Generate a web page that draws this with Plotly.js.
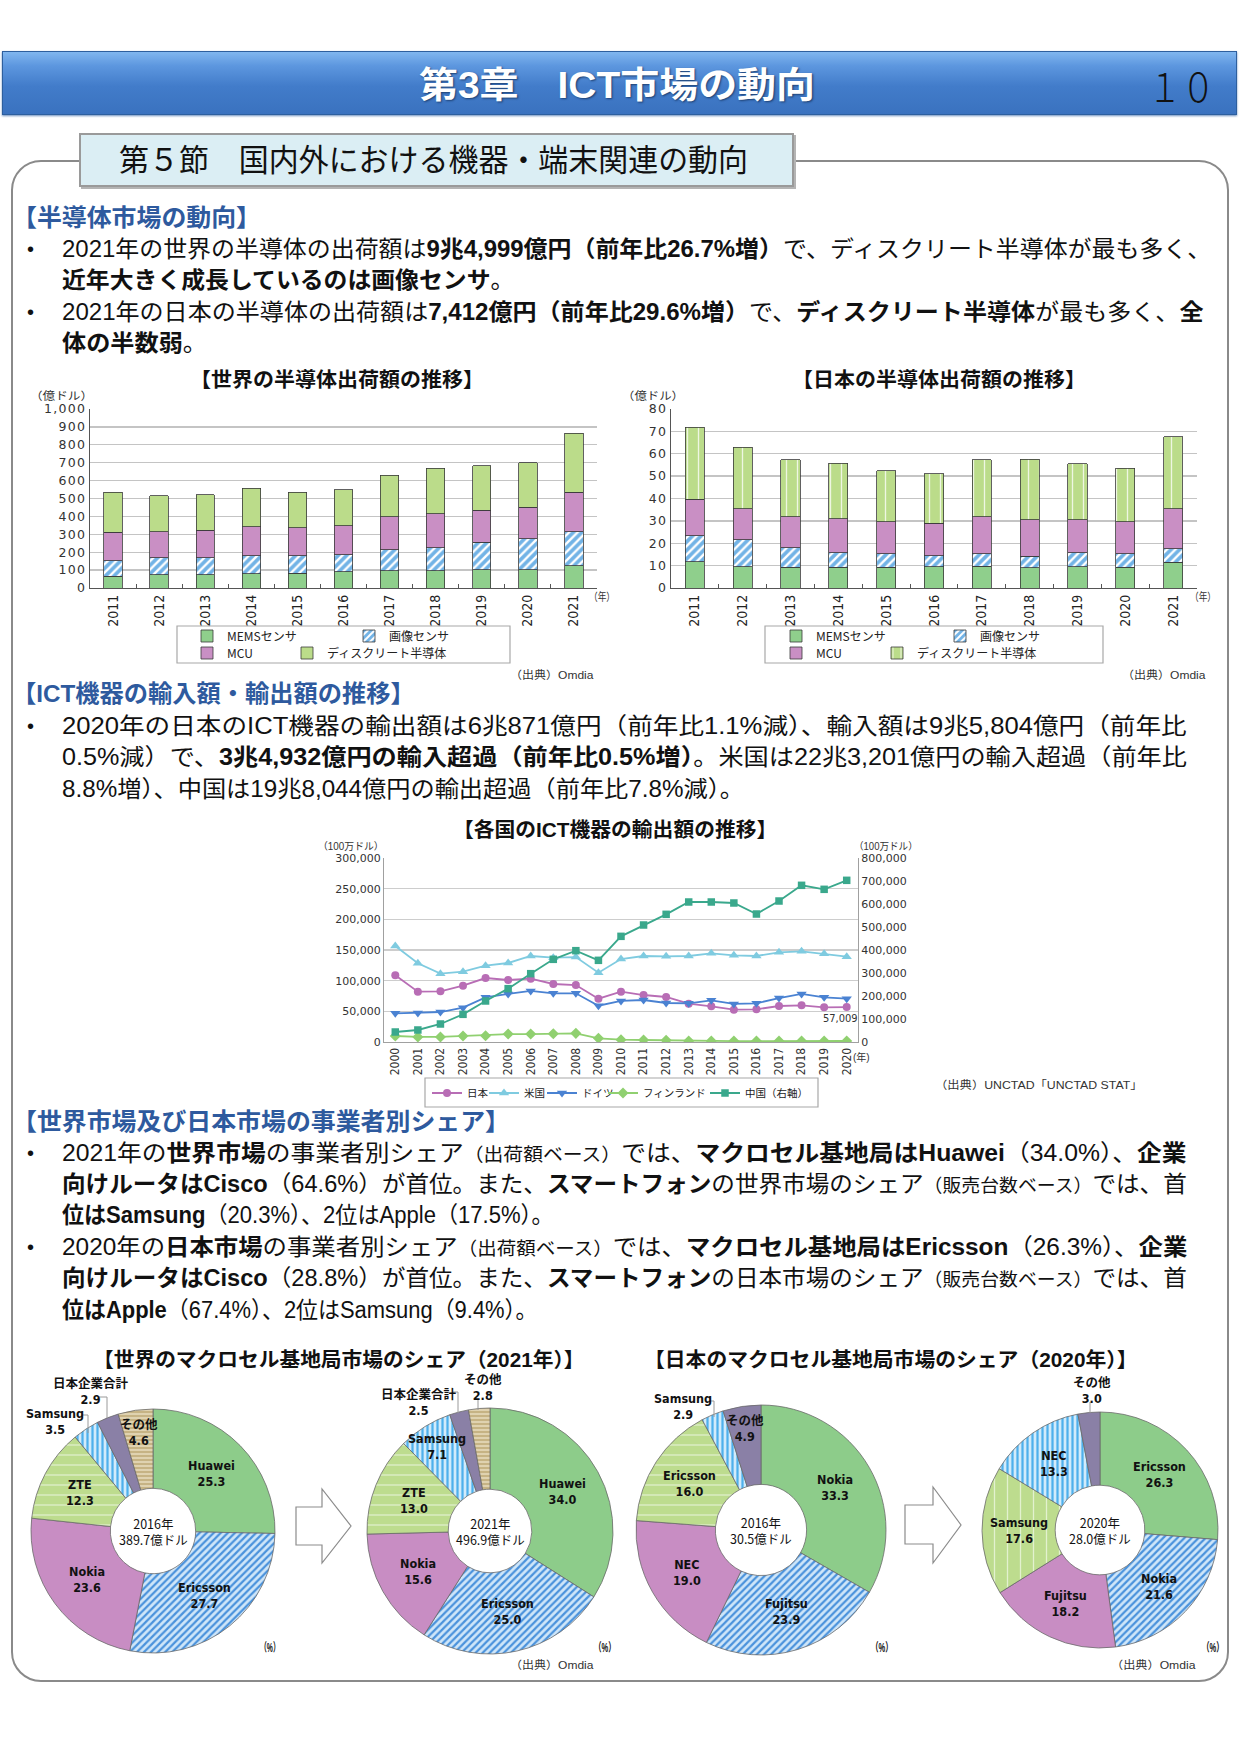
<!DOCTYPE html>
<html lang="ja"><head><meta charset="utf-8">
<script src="https://cdn.plot.ly/plotly-3.0.1.min.js"></script>
<style>
html,body{margin:0;padding:0;background:#fff;overflow:hidden;}
#page{position:relative;width:1241px;height:1755px;overflow:hidden;font-family:"Liberation Sans","Noto Sans CJK JP",sans-serif;color:#111;}
#hdr{position:absolute;left:2px;top:51px;width:1235px;height:64px;background:linear-gradient(to bottom,#80b6ef 0%,#5d97df 22%,#427cca 55%,#3a72bf 100%);border:1px solid #2d5f9e;box-sizing:border-box;box-shadow:0 1px 2px #6b8fbf;}
#frame{position:absolute;left:11px;top:160px;width:1218px;height:1522px;border:2px solid #8a8a8a;border-radius:30px;box-sizing:border-box;}
#sec{position:absolute;left:79px;top:133px;width:715px;height:54px;background:#dbeef4;border:2px solid #9a9a9a;box-shadow:2px 2px 0 #b4b4b4;box-sizing:border-box;}
.t{position:absolute;white-space:nowrap;transform-origin:0 50%;display:inline-block;}
.t b{font-weight:700;}
.t small{font-size:0.8em;}
#plot{position:absolute;left:0;top:0;width:1241px;height:1755px;z-index:5;}
#plot .ytick text,#plot .y2tick text{letter-spacing:1.3px;}
</style></head>
<body>
<div id="page">
  <div id="hdr"></div>
  <div id="frame"></div>
  <div id="sec"></div>
  <div id="plot"></div>
</div>
<script>
// ================= DATA =================
const semiYears = ['2011','2012','2013','2014','2015','2016','2017','2018','2019','2020','2021'];
const semiSeries = ['MEMSセンサ','画像センサ','MCU','ディスクリート半導体'];
const worldMEMS     = [67, 73, 75, 80, 82, 90, 97, 97, 103, 103, 125];
const worldImage    = [86, 95, 93, 101, 99, 97, 118, 129, 154, 173, 190];
const worldMCU      = [159, 147, 155, 162, 157, 162, 184, 190, 176, 174, 219];
const worldDiscrete = [222, 200, 197, 213, 196, 201, 230, 252, 250, 250, 330];
const japanMEMS     = [11.8, 9.6, 9.3, 9.3, 9.3, 9.4, 9.7, 9.1, 9.6, 9.3, 11.6];
const japanImage    = [11.6, 12.0, 8.8, 6.5, 6.1, 5.1, 5.7, 5.1, 6.1, 6.1, 5.9];
const japanMCU      = [16.2, 13.9, 13.8, 15.2, 14.3, 14.5, 16.5, 16.4, 14.9, 14.2, 18.0];
const japanDiscrete = [32.2, 27.3, 25.4, 24.7, 22.8, 22.0, 25.4, 26.9, 24.9, 24.0, 32.0];

const ictYears = ['2000','2001','2002','2003','2004','2005','2006','2007','2008','2009','2010','2011','2012','2013','2014','2015','2016','2017','2018','2019','2020'];
const ictNames = ['日本','米国','ドイツ','フィンランド','中国（右軸）'];
const ictJapan   = [109000, 82000, 82600, 91800, 104300, 101100, 103300, 94600, 92900, 70600, 82000, 76600, 73400, 62500, 58200, 52700, 53300, 58700, 59800, 56500, 57009];
const ictUSA     = [156500, 128300, 111400, 114700, 124500, 128800, 140200, 137500, 138500, 113000, 135300, 140200, 139700, 140200, 144600, 141300, 140200, 146200, 147800, 144000, 139100];
const ictGermany = [46700, 47300, 48900, 56000, 72800, 78300, 83200, 79400, 79400, 59200, 66900, 68500, 63600, 63000, 67900, 62000, 63000, 71700, 78300, 72800, 70700];
const ictFinland = [9800, 8200, 8200, 9800, 10300, 13000, 13000, 13600, 14100, 6000, 3800, 3300, 2700, 1600, 1600, 1500, 1500, 1600, 1600, 1600, 1600];
const ictChina   = [43500, 52200, 78300, 120300, 178300, 231900, 297100, 359400, 397100, 355100, 459400, 508700, 555100, 608700, 608700, 604400, 556500, 613000, 681200, 663800, 702900];

const worldVendors = ['Huawei','Ericsson','Nokia','ZTE','Samsung','日本企業合計','その他'];
const worldShare2016 = [25.3, 27.7, 23.6, 12.3, 3.5, 2.9, 4.6];
const worldShare2021 = [34.0, 25.0, 15.6, 13.0, 7.1, 2.5, 2.8];
const japanVendors2016 = ['Nokia','Fujitsu','NEC','Ericsson','Samsung','その他'];
const japanShare2016 = [33.3, 23.9, 19.0, 16.0, 2.9, 4.9];
const japanVendors2020 = ['Ericsson','Nokia','Fujitsu','Samsung','NEC','その他'];
const japanShare2020 = [26.3, 21.6, 18.2, 17.6, 13.3, 3.0];
const pieYears = ['2016年','2021年','2016年','2020年'];
const pieTotals = ['389.7億ドル','496.9億ドル','30.5億ドル','28.0億ドル'];

// ================= PAGE TEXT =================
const page = document.getElementById('page');
const fitList = [];
function T(x, yc, w, size, html, opt){
  opt = opt || {};
  const s = document.createElement('span');
  s.className = 't';
  s.innerHTML = html;
  s.style.left = x + 'px';
  s.style.fontSize = size + 'px';
  const lh = Math.round(size * 1.08);
  s.style.lineHeight = lh + 'px';
  s.style.top = (yc - lh / 2) + 'px';
  if (opt.color) s.style.color = opt.color;
  if (opt.bold) s.style.fontWeight = 700;
  if (opt.weight) s.style.fontWeight = opt.weight;
  if (opt.family) s.style.fontFamily = opt.family;
  if (opt.shadow) s.style.textShadow = opt.shadow;
  s.style.zIndex = 3;
  page.appendChild(s);
  if (w) fitList.push([s, w]);
  return s;
}
function fitAll(){ fitList.forEach(([s,w]) => { s.style.transform = 'scaleX(' + (w / s.offsetWidth) + ')'; }); }

// header
T(419, 85, 396, 36, '第3章　ICT市場の動向', {bold:true, color:'#fff', shadow:'1px 1px 2px #1d3f70'});
T(1148, 85, 67, 40, '１０', {weight:300, color:'#111', family:'"Noto Sans CJK JP",sans-serif'});
T(119, 160, 629, 31, '第５節　国内外における機器・端末関連の動向', {color:'#111'});

const HB = '#2e5a9e';
// section 1
T(12, 218, 249, 24, '【半導体市場の動向】', {bold:true, color:HB});
T(27, 249, 0, 20, '•'); T(27, 312, 0, 20, '•');
T(62, 249, 1149, 23, '2021年の世界の半導体の出荷額は<b>9兆4,999億円（前年比26.7%増）</b>で、ディスクリート半導体が最も多く、');
T(62, 280, 452, 23, '<b>近年大きく成長しているのは画像センサ</b>。');
T(62, 312, 1141, 23, '2021年の日本の半導体の出荷額は<b>7,412億円（前年比29.6%増）</b>で、<b>ディスクリート半導体</b>が最も多く、<b>全</b>');
T(62, 343, 145, 23, '<b>体の半数弱</b>。');

// section 2
T(12, 694, 403, 24, '【ICT機器の輸入額・輸出額の推移】', {bold:true, color:HB});
T(27, 726, 0, 20, '•');
T(62, 726, 1125, 23, '2020年の日本のICT機器の輸出額は6兆871億円（前年比1.1%減）、輸入額は9兆5,804億円（前年比');
T(62, 757, 1125, 23, '0.5%減）で、<b>3兆4,932億円の輸入超過（前年比0.5%増）</b>。米国は22兆3,201億円の輸入超過（前年比');
T(62, 789, 682, 23, '8.8%増）、中国は19兆8,044億円の輸出超過（前年比7.8%減）。');

// section 3
T(12, 1122, 498, 24, '【世界市場及び日本市場の事業者別シェア】', {bold:true, color:HB});
T(27, 1153, 0, 20, '•'); T(27, 1247, 0, 20, '•');
T(62, 1153, 1125, 23, '2021年の<b>世界市場</b>の事業者別シェア<small>（出荷額ベース）</small>では、<b>マクロセル基地局はHuawei</b>（34.0%）、<b>企業</b>');
T(62, 1184, 1125, 23, '<b>向けルータはCisco</b>（64.6%）が首位。また、<b>スマートフォン</b>の世界市場のシェア<small>（販売台数ベース）</small>では、首');
T(62, 1215, 492, 23, '<b>位はSamsung</b>（20.3%）、2位はApple（17.5%）。');
T(62, 1247, 1125, 23, '2020年の<b>日本市場</b>の事業者別シェア<small>（出荷額ベース）</small>では、<b>マクロセル基地局はEricsson</b>（26.3%）、<b>企業</b>');
T(62, 1278, 1125, 23, '<b>向けルータはCisco</b>（28.8%）が首位。また、<b>スマートフォン</b>の日本市場のシェア<small>（販売台数ベース）</small>では、首');
T(62, 1310, 476, 23, '<b>位はApple</b>（67.4%）、2位はSamsung（9.4%）。');

// chart titles
T(190, 380, 294, 20, '【世界の半導体出荷額の推移】', {bold:true});
T(792, 380, 294, 20, '【日本の半導体出荷額の推移】', {bold:true});
T(453, 830, 324, 20, '【各国のICT機器の輸出額の推移】', {bold:true});
T(93, 1360, 492, 20, '【世界のマクロセル基地局市場のシェア（2021年）】', {bold:true});
T(644, 1360, 494, 20, '【日本のマクロセル基地局市場のシェア（2020年）】', {bold:true});

// units / sources
const small = {color:'#333'};
T(30, 396, 63, 11, '（億ドル）', small);
T(622, 396, 62, 11, '（億ドル）', small);
T(589, 597, 26, 11, '（年）', small);
T(1190, 597, 26, 11, '（年）', small);
T(318, 846, 66, 10, '（100万ドル）', small);
T(854, 846, 64, 10, '（100万ドル）', small);
T(853, 1057, 17, 10, '(年)', small);
T(510, 675, 83, 11, '（出典）Omdia', small);
T(1122, 675, 83, 11, '（出典）Omdia', small);
T(935, 1085, 208, 11, '（出典）UNCTAD「UNCTAD STAT」', small);
T(510, 1665, 83, 11, '（出典）Omdia', small);
T(1111, 1665, 84, 11, '（出典）Omdia', small);
T(260, 1648, 20, 12, '（%）', {bold:true});
T(594, 1648, 22, 12, '（%）', {bold:true});
T(871, 1648, 22, 12, '（%）', {bold:true});
T(1202, 1648, 22, 12, '（%）', {bold:true});

fitAll();

// ================= CHART =================
const W = 1241, H = 1755;
const fx = x => x / W, fy = y => 1 - y / H;

const barLine = {color:'#3a3a3a', width:0.8};
const COL = {mems:'#8fcf8c', img:'#72b3e6', mcu:'#c98fc4', disc:'#bbdc8a'};
// each legend item gets its own legend so its position can follow the reference
const legendDefs = {};
let legendCount = 0;
function newLegend(xText, yc, font){
  legendCount++;
  const id = legendCount === 1 ? 'legend' : 'legend' + legendCount;
  legendDefs[id] = {orientation:'h', xanchor:'left', yanchor:'middle', x:fx(xText - 40), y:fy(yc), bgcolor:'rgba(0,0,0,0)', borderwidth:0,
    font:font, itemclick:false, itemdoubleclick:false};
  return id;
}
const barLegFont = {family:'"Noto Sans CJK JP",sans-serif', size:12, color:'#222'};
const lineLegFont = {family:'"Noto Sans CJK JP",sans-serif', size:10.5, color:'#222'};

function semiTraces(xa, ya, vals, legX, discPattern){
  const m4 = {color:COL.disc, line:barLine};
  if (discPattern) m4.pattern = discPattern;
  const markers = [
    {color:COL.mems, line:barLine},
    {color:COL.img, line:barLine, pattern:{shape:'/', bgcolor:COL.img, fgcolor:'#ffffff', size:6, solidity:0.4}},
    {color:COL.mcu, line:barLine},
    m4
  ];
  return vals.map((v, i) => ({type:'bar', x:semiYears, y:v, name:semiSeries[i], xaxis:xa, yaxis:ya,
    legend:newLegend(legX[i][0], legX[i][1], barLegFont), marker:markers[i]}));
}
let traces = [];
traces = traces.concat(semiTraces('x','y',[worldMEMS,worldImage,worldMCU,worldDiscrete],
  [[227,636],[389,636],[227,653],[327,653]], null));
traces = traces.concat(semiTraces('x2','y2',[japanMEMS,japanImage,japanMCU,japanDiscrete],
  [[816,636],[980,636],[816,653],[917,653]], {shape:'|', bgcolor:COL.disc, fgcolor:'#eef6e2', size:11, solidity:0.12}));

const ictStyle = [
  {color:'#b86db5', symbol:'circle', size:8, ax:'y3', lx:467},
  {color:'#7fcbe0', symbol:'triangle-up', size:9, ax:'y3', lx:524},
  {color:'#4a82d2', symbol:'triangle-down', size:9, ax:'y3', lx:582},
  {color:'#90d070', symbol:'diamond', size:8.5, ax:'y3', lx:643},
  {color:'#3aa88c', symbol:'square', size:7.5, ax:'y4', lx:745}
];
[ictJapan, ictUSA, ictGermany, ictFinland, ictChina].forEach((ys, i) => {
  const st = ictStyle[i];
  traces.push({type:'scatter', mode:'lines+markers', x:ictYears, y:ys, name:ictNames[i], xaxis:'x3', yaxis:st.ax,
    legend:newLegend(st.lx, 1093, lineLegFont),
    line:{color:st.color, width:1.8}, marker:{symbol:st.symbol, size:st.size, color:st.color}});
});

// pie styles
const SL = {
  green:  {c:'#8dcc8a', s:'',  fg:'#8dcc8a', z:8, o:0.1},
  hatch:  {c:'#cfe6f9', s:'/', fg:'#4a92dc', z:5, o:0.45},
  pink:   {c:'#c88dc3', s:'',  fg:'#c88dc3', z:8, o:0.1},
  lgH:    {c:'#bddc8e', s:'-', fg:'#e3f1cf', z:10, o:0.12},
  lgV:    {c:'#bddc8e', s:'|', fg:'#e3f1cf', z:13, o:0.1},
  lbV:    {c:'#d2ebfb', s:'|', fg:'#4eb0ec', z:5, o:0.45},
  purple: {c:'#8a80a6', s:'',  fg:'#8a80a6', z:8, o:0.1},
  tan:    {c:'#c6b384', s:'-', fg:'#ebe0c4', z:4, o:0.35}
};
const pies = [
  {labels:worldVendors, values:worldShare2016, cx:153, cy:1531, r:122, hole:0.35,
   st:['green','hatch','pink','lgH','lbV','purple','tan'], inR:{6:0.82},
   out:{4:{pos:[55,1421], lead:[[81,1415],[88,1415],[88,1433]]}, 5:{pos:[91,1391], lead:[[99,1397],[107,1397],[107,1418]]}}},
  {labels:worldVendors, values:worldShare2021, cx:490, cy:1531, r:123, hole:0.34,
   st:['green','hatch','pink','lgH','lbV','purple','tan'], inR:{4:0.81},
   out:{5:{pos:[419,1402], lead:[[453,1392],[458,1392],[458,1413]]}, 6:{pos:[483,1387], lead:[[478,1399],[478,1410]]}}},
  {labels:japanVendors2016, values:japanShare2016, cx:761, cy:1530, r:125, hole:0.365,
   st:['green','hatch','pink','lgH','lbV','purple'], inR:{5:0.82},
   out:{4:{pos:[683,1406], lead:[[710,1401],[714,1401],[714,1417]]}}},
  {labels:japanVendors2020, values:japanShare2020, cx:1100, cy:1530, r:118, hole:0.38,
   st:['green','hatch','pink','lgV','lbV','purple'], inR:{},
   out:{5:{pos:[1092,1390], lead:[[1090,1402],[1090,1413]]}}}
];

const annotations = [];
const shapes = [];
const lblFont = {family:'"Liberation Sans Narrow","DejaVu Sans Condensed","Noto Sans CJK JP",sans-serif', size:12.5, color:'#111', weight:700};
const centerFont = {family:'"Noto Sans CJK JP",sans-serif', size:12.5, color:'#111'};
function ann(x, y, text, font, extra){
  annotations.push(Object.assign({xref:'paper', yref:'paper', x:fx(x), y:fy(y), text:text, showarrow:false, font:font, xanchor:'center', yanchor:'middle', borderpad:0}, extra || {}));
}
function pathPx(pts){ return pts.map((p,i) => (i ? 'L' : 'M') + fx(p[0]) + ',' + fy(p[1])).join(' '); }

pies.forEach((p, k) => {
  const stl = p.st.map(n => SL[n]);
  traces.push({type:'pie', labels:p.labels, values:p.values, sort:false, direction:'clockwise', rotation:0, hole:p.hole,
    domain:{x:[fx(p.cx - p.r), fx(p.cx + p.r)], y:[fy(p.cy + p.r), fy(p.cy - p.r)]},
    textinfo:'none', showlegend:false, hoverinfo:'skip',
    marker:{colors:stl.map(s => s.c), line:{color:'#6a6a6a', width:0.8},
      pattern:{shape:stl.map(s => s.s), bgcolor:stl.map(s => s.c), fgcolor:stl.map(s => s.fg), size:stl.map(s => s.z), solidity:stl.map(s => s.o)}}});
  const tot = p.values.reduce((a,b) => a + b, 0);
  let cum = 0;
  p.values.forEach((v, i) => {
    const mid = (cum + v / 2) / tot; cum += v;
    const th = mid * 2 * Math.PI;
    let x, y;
    if (p.out[i]) { x = p.out[i].pos[0]; y = p.out[i].pos[1]; shapes.push({type:'path', xref:'paper', yref:'paper', path:pathPx(p.out[i].lead), line:{color:'#9a9a9a', width:1}}); }
    else { const d = (p.inR[i] || (1 + p.hole) / 2) * p.r; x = p.cx + d * Math.sin(th); y = p.cy - d * Math.cos(th); }
    ann(x, y, p.labels[i] + '<br>' + v.toFixed(1), lblFont);
  });
  ann(p.cx, p.cy, pieYears[k] + '<br>' + pieTotals[k], centerFont);
});

// arrows between pies
function arrow(x0, bodyTop, bodyBot, hx, headTop, headBot, tip, tipY){
  shapes.push({type:'path', xref:'paper', yref:'paper', fillcolor:'#ffffff', line:{color:'#8c8c8c', width:1.2},
    path:pathPx([[x0,bodyTop],[hx,bodyTop],[hx,headTop],[tip,tipY],[hx,headBot],[hx,bodyBot],[x0,bodyBot]]) + ' Z'});
}
arrow(296, 1507, 1545, 322, 1489, 1563, 351, 1526);
arrow(905, 1505, 1544, 933, 1487, 1563, 961, 1525);

// legend boxes
function rectPx(x0, y0, x1, y1){ shapes.push({type:'rect', xref:'paper', yref:'paper', x0:fx(x0), x1:fx(x1), y0:fy(y1), y1:fy(y0), line:{color:'#a8a8a8', width:1.2}}); }
rectPx(177, 626, 510, 663);
rectPx(765, 626, 1103, 663);
rectPx(425, 1078, 818, 1107);

// 57,009 label tied to the last Japan point (category index of 2020)
annotations.push({xref:'x3', yref:'y3', x:ictYears.length - 1, y:ictJapan[ictJapan.length - 1], text:'57,009', showarrow:false, xanchor:'right', yanchor:'middle', xshift:13, yshift:-11,
  font:{family:'"Liberation Sans Narrow","DejaVu Sans Condensed",sans-serif', size:11, color:'#333'}});

const yearFont = {family:'"Liberation Sans Narrow","DejaVu Sans Condensed","Liberation Sans",sans-serif', size:14, color:'#222'};
const tickFont = {family:'"DejaVu Sans",sans-serif', size:12.5, color:'#333'};
const smallTick = {family:'"DejaVu Sans",sans-serif', size:11, color:'#333'};

const catAxis = {type:'category', tickangle:-90, ticks:'inside', tickson:'boundaries', ticklen:4, tickcolor:'#555', showline:true, linecolor:'#555', linewidth:1.2, tickfont:yearFont, showgrid:false, range:[-0.5, 10.5]};
const valAxis = {showgrid:true, gridcolor:'#c4c4c4', gridwidth:1.4, showline:true, linecolor:'#555', linewidth:1.2, zeroline:false, tickfont:tickFont, ticks:'', tickformat:',d'};

const layout = Object.assign({
  width:W, height:H, margin:{l:0, r:0, t:0, b:0, pad:0},
  paper_bgcolor:'rgba(0,0,0,0)', plot_bgcolor:'rgba(0,0,0,0)',
  font:{family:'"Noto Sans CJK JP",sans-serif', color:'#222'},
  barmode:'stack', bargap:0.6,
  xaxis:Object.assign({}, catAxis, {domain:[fx(90), fx(597)], anchor:'y'}),
  yaxis:Object.assign({}, valAxis, {domain:[fy(588), fy(409)], anchor:'x', range:[0,1000], dtick:100}),
  xaxis2:Object.assign({}, catAxis, {domain:[fx(671), fx(1197)], anchor:'y2'}),
  yaxis2:Object.assign({}, valAxis, {domain:[fy(588), fy(409)], anchor:'x2', range:[0,80], dtick:10}),
  xaxis3:{domain:[fx(384), fx(858)], anchor:'y3', type:'category', range:[-0.5, 20.5], tickangle:-90, ticks:'', showline:true, linecolor:'#a0a0a0', linewidth:1, showgrid:false,
          tickfont:{family:'"Liberation Sans Narrow","DejaVu Sans Condensed",sans-serif', size:12, color:'#333'}},
  yaxis3:{domain:[fy(1042), fy(858)], anchor:'x3', range:[0,300000], dtick:50000, tickformat:',d', showgrid:true, gridcolor:'#cdcdcd', gridwidth:1.2,
          showline:true, linecolor:'#a0a0a0', zeroline:false, ticks:'', tickfont:smallTick},
  yaxis4:{overlaying:'y3', anchor:'x3', side:'right', range:[0,800000], dtick:100000, tickformat:',d', showgrid:false, showline:true, linecolor:'#a0a0a0', zeroline:false, ticks:'', tickfont:smallTick},
  annotations:annotations,
  shapes:shapes,
  showlegend:true
}, legendDefs);

Plotly.newPlot('plot', traces, layout, {staticPlot:true, displayModeBar:false});
if (document.fonts && document.fonts.ready) document.fonts.ready.then(fitAll);
</script>
</body></html>
